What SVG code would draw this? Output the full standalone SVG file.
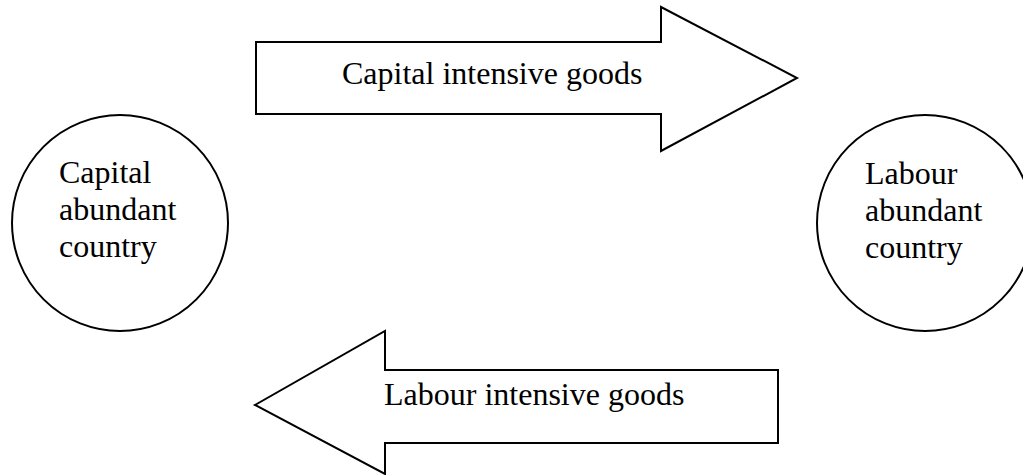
<svg xmlns="http://www.w3.org/2000/svg" width="1023" height="475" viewBox="0 0 1023 475">
<style>
.shape{fill:#fff;stroke:#000;stroke-width:2;stroke-linejoin:miter}
.t{font-family:"Liberation Serif","Times New Roman",serif;font-size:32px;fill:#000}
.lbl{font-family:"Liberation Serif","Times New Roman",serif;font-size:32px;fill:#000}
</style>
<rect width="1023" height="475" fill="#fff"/>
<g id="connectors">
<g id="arrow-capital">
<polygon class="shape" points="256,42 661,42 661,7 797,78 661,151 661,114 256,114"/>
<text class="lbl" x="342" y="84">Capital intensive goods</text>
</g>
<g id="arrow-labour">
<polygon class="shape" points="778,370 385,370 385,331 255,405 385,474 385,443 778,443"/>
<text class="lbl" x="384" y="405">Labour intensive goods</text>
</g>
</g>
<g id="node-capital">
<circle class="shape" cx="120" cy="223" r="108"/>
<text class="t" x="59" y="183">Capital</text>
<text class="t" x="59" y="220">abundant</text>
<text class="t" x="59" y="257">country</text>
</g>
<g id="node-labour">
<circle class="shape" cx="925" cy="223" r="108"/>
<text class="t" x="865" y="184">Labour</text>
<text class="t" x="865" y="221">abundant</text>
<text class="t" x="865" y="258">country</text>
</g>
</svg>
